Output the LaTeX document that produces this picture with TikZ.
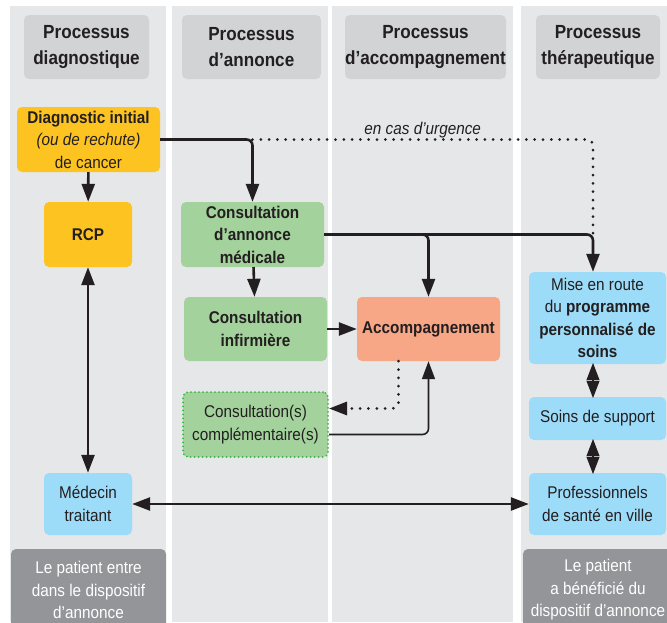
\documentclass[tikz,border=0pt]{standalone}
\usepackage{fontspec}
\setmainfont{Liberation Sans}[FakeStretch=0.9]
\usetikzlibrary{arrows.meta,calc,positioning}
\definecolor{lanegray}{HTML}{E6E7E8}
\definecolor{headgray}{HTML}{D1D3D4}
\definecolor{darkgray}{HTML}{939598}
\definecolor{ink}{HTML}{231F20}
\definecolor{diagyellow}{HTML}{FDC421}
\definecolor{annoncegreen}{HTML}{A3D29C}
\definecolor{dotgreen}{HTML}{3BB54A}
\definecolor{accsalmon}{HTML}{F7A686}
\definecolor{soinblue}{HTML}{9DDCF9}
\newcommand{\txt}{\fontsize{17}{22.5}\selectfont}

\begin{document}
\begin{tikzpicture}[x=1pt,y=-1pt,
    box/.style={rounded corners=5pt, align=center, inner sep=0pt, text=ink, font=\txt},
    headbox/.style={box, fill=headgray, font=\fontsize{19}{26}\selectfont\bfseries},
    patbox/.style={box, fill=darkgray, text=white},
    arr/.style={draw=ink, line width=2.6pt, rounded corners=6pt, -{Triangle[length=18pt,width=13pt]}},
    arrboth/.style={arr, {Triangle[length=18pt,width=13pt]}-{Triangle[length=18pt,width=13pt]}},
    diam/.style={draw=ink, line width=2.6pt, shorten <=-1.5pt, shorten >=-1.5pt,
        {Triangle[length=17.5pt,width=12.5pt]}-{Triangle[length=17.5pt,width=12.5pt]}},
    urg/.style={draw=ink, line width=3pt, line cap=round, dash pattern=on 0pt off 8.3pt, rounded corners=6pt},
    urgarr/.style={urg, -{Triangle[length=18pt,width=13pt]}}]
    \clip (0,0) rectangle (667,622);
    \fill[white] (0,0) rectangle (667,622);

    % Lanes
    \fill[lanegray] (10,6) rectangle (166,622);
    \fill[lanegray] (172,6) rectangle (328,622);
    \fill[lanegray] (332,6) rectangle (513,622);
    \fill[lanegray] (521,6) rectangle (667,622);

    % Headers
    \node[headbox, minimum width=125pt, minimum height=64pt] (h1) at (86.5,47) {Processus\\diagnostique};
    \node[headbox, minimum width=139pt, minimum height=64pt] (h2) at (251.5,47) {Processus\\d’annonce};
    \node[headbox, minimum width=161pt, minimum height=64pt] (h3) at (425.5,47) {Processus\\d’accompagnement};
    \node[headbox, minimum width=124pt, minimum height=64pt] (h4) at (598,47) {Processus\\thérapeutique};

    % Processus diagnostique
    \node[box, fill=diagyellow, minimum width=143pt, minimum height=65pt] (diag) at (88.5,139.5)
        {\textbf{Diagnostic initial}\\\textit{(ou de rechute)}\\de cancer};
    \node[box, fill=diagyellow, minimum width=88pt, minimum height=65pt, font=\txt\bfseries] (rcp) at (88,234.5) {RCP};
    \node[box, fill=soinblue, minimum width=88pt, minimum height=62pt] (medt) at (88,504) {Médecin\\traitant};
    \node[patbox, minimum width=155pt, minimum height=82pt] (pat1) at (88.5,590)
        {Le patient entre\\dans le dispositif\\d’annonce};

    % Processus d'annonce
    \node[box, fill=annoncegreen, minimum width=143pt, minimum height=65pt, font=\txt\bfseries] (med) at (252.5,234.5)
        {Consultation\\d’annonce\\médicale};
    \node[box, fill=annoncegreen, minimum width=143pt, minimum height=64pt, font=\txt\bfseries] (inf) at (255.5,329)
        {Consultation\\infirmière};
    \node[box, fill=annoncegreen, minimum width=145pt, minimum height=65pt,
        draw=dotgreen, line width=2pt, dash pattern=on 0pt off 4pt, line cap=round] (compl) at (255.5,424.5)
        {Consultation(s)\\complémentaire(s)};

    % Processus d'accompagnement
    \node[box, fill=accsalmon, minimum width=143pt, minimum height=64pt, font=\txt\bfseries] (acc) at (428.5,329)
        {Accompagnement};

    % Processus therapeutique
    \node[box, fill=soinblue, minimum width=137pt, minimum height=92pt] (mise) at (597.5,318)
        {Mise en route\\du \textbf{programme}\\\textbf{personnalisé de}\\\textbf{soins}};
    \node[box, fill=soinblue, minimum width=137pt, minimum height=43pt] (soins) at (597.5,418.5) {Soins de support};
    \node[box, fill=soinblue, minimum width=137pt, minimum height=62pt] (pro) at (597.5,504)
        {Professionnels\\de santé en ville};
    \node[patbox, minimum width=150pt, minimum height=82pt] (pat2) at (598,590)
        {Le patient\\a bénéficié du\\dispositif d’annonce};

    % Connectors
    \coordinate (therx) at (593,0);
    \coordinate (urgdown) at (med.east -| therx);
    \draw[urg] (med.north |- diag.east) -| (urgdown)
        node[pos=0.25, anchor=base, yshift=5pt, font=\txt\itshape, text=ink] (urgtxt) {en cas d’urgence};
    \draw[arr] (diag) -- (rcp);
    \draw[arr] (diag.east) -| (med.north);
    \draw[arr] (med.east) -| (acc.north);
    \draw[arr] (med.east) -| (mise.north -| therx);
    \draw[arr] (med) -- (inf);
    \draw[arr] (inf) -- (acc);
    \draw[urgarr] ($(acc.south)+(-30,0)$) |- ($(compl.east)+(0,-16)$);
    \draw[arr, line width=1.6pt] ($(compl.east)+(0,10)$) -| (acc.south);
    \draw[arrboth] (rcp) -- (medt);
    \draw[arrboth] (medt) -- (pro);
    \draw[diam] (mise.south -| therx) -- (soins.north -| therx);
    \draw[diam] (soins.south -| therx) -- (pro.north -| therx);
\end{tikzpicture}
\end{document}
